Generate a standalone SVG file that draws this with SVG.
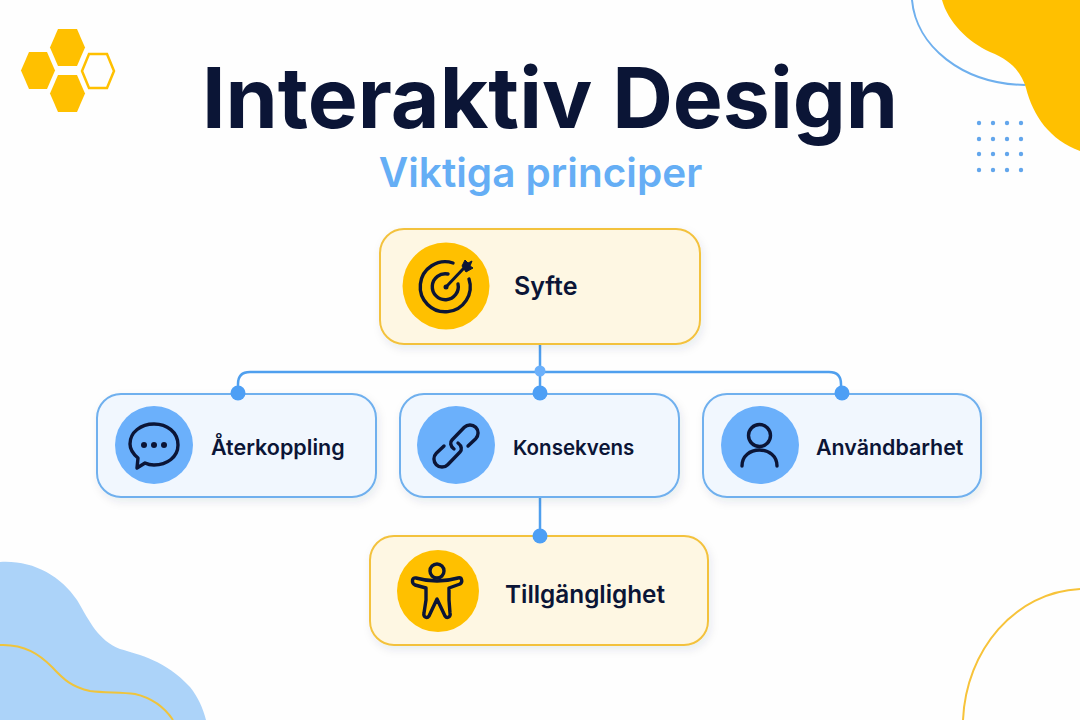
<svg xmlns="http://www.w3.org/2000/svg" width="1080" height="720" viewBox="0 0 1080 720">
<defs>
<filter id="sh" x="-10%" y="-15%" width="120%" height="135%"><feDropShadow dx="2" dy="4" stdDeviation="4" flood-color="#1a2a50" flood-opacity="0.09"/></filter>
</defs>
<style>
.t{font-family:"Inter","Noto Sans","Liberation Sans",sans-serif;fill:#0b1536}
.lbl{font-weight:600}
.y{fill:#fef7e3;stroke:#f3c23e;stroke-width:2}
.b{fill:#f1f7fe;stroke:#6fb0ee;stroke-width:2}
.ic{fill:none;stroke:#0b1536;stroke-width:3.4;stroke-linecap:round;stroke-linejoin:round}
.conn{fill:none;stroke:#4f9fee;stroke-width:2.5}
.dot{fill:#4d9ff5}
.d{fill:#63a6ec}
</style>
<rect width="1080" height="720" fill="#fefefe"/>
<g id="decor">
<path d="M942 0C948 22 968 42 990 52C1012 61 1021 72 1026 88C1033 116 1050 140 1080 151V0Z" fill="#ffc000"/>
<path d="M912 0C916 46 962 84 1025 85" fill="none" stroke="#6fb0ee" stroke-width="2"/>
<g class="d"><circle cx="979" cy="123" r="2.200"/><circle cx="993" cy="123" r="2.200"/><circle cx="1007" cy="123" r="2.200"/><circle cx="1021" cy="123" r="2.200"/><circle cx="979" cy="139" r="2.200"/><circle cx="993" cy="139" r="2.200"/><circle cx="1007" cy="139" r="2.200"/><circle cx="1021" cy="139" r="2.200"/><circle cx="979" cy="154" r="2.200"/><circle cx="993" cy="154" r="2.200"/><circle cx="1007" cy="154" r="2.200"/><circle cx="1021" cy="154" r="2.200"/><circle cx="979" cy="170" r="2.200"/><circle cx="993" cy="170" r="2.200"/><circle cx="1007" cy="170" r="2.200"/><circle cx="1021" cy="170" r="2.200"/></g>
<path d="M0 562C32 560 60 575 77 600C90 622 98 640 120 649C140 655 165 660 190 687C198 697 203 708 206 720H0Z" fill="#acd3f9"/>
<path d="M0 645C25 644 40 655 52 667C64 680 72 687 90 691C105 693 120 692 135 694C152 698 165 708 173 720" fill="none" stroke="#efc43c" stroke-width="2"/>
<path d="M963 720C966 650 1015 592 1080 589" fill="none" stroke="#f7c33a" stroke-width="2"/>
<g fill="#ffc000"><path d="M58 29H77L85 47.500L77 66H58L50 47.500Z"/><path d="M29 52H47L55 70.500L47 89H29L21 70.500Z"/><path d="M58 75H77L85 93.500L77 112H58L50 93.500Z"/></g>
<path d="M89 54H107L114 71L107 88H89L82 71Z" fill="none" stroke="#ffc000" stroke-width="2.500"/>
</g>
<text class="t" x="550" y="128" text-anchor="middle" font-size="84" font-weight="700">Interaktiv Design</text>
<text class="t" x="540.500" y="187" text-anchor="middle" font-size="40.500" font-weight="600" style="fill:#65aef5">Viktiga principer</text>
<g id="connectors">
<path class="conn" d="M540 344V393M238 393V384Q238 372 250 372H829Q841 372 841 384V393M540 497V536"/>
</g>
<g id="syfte"><rect class="y" x="380" y="229" width="320" height="115" rx="24" filter="url(#sh)"/><circle cx="446" cy="286" r="43.500" fill="#ffc000"/>
<g class="ic"><path d="M469 279A25 25 0 1 1 453 263"/><path d="M458 284A13 13 0 1 1 448 274"/><path d="M446 287L464 268" stroke-width="3"/></g><path d="M462 266L465 260L468 263L472 261L470 266L473 268L466 272Z" fill="#0b1536" stroke="#0b1536" stroke-width="1" stroke-linejoin="round"/><circle cx="446" cy="287" r="2.500" fill="#0b1536"/>
<text class="t lbl" font-size="25" x="514" y="295">Syfte</text></g>
<g id="aterkoppling"><rect class="b" x="97" y="394" width="279" height="103" rx="24" filter="url(#sh)"/><circle cx="154" cy="445" r="39" fill="#6bb0fb"/>
<path class="ic" d="M137 468L138 458C132 453 130 449 130 444C130 432 141 424 154 424C167 424 178 432 178 445C178 457 167 465 154 465C150 465 147 464 145 463Z"/><g fill="#0b1536"><circle cx="144" cy="445" r="3"/><circle cx="154" cy="445" r="3"/><circle cx="164" cy="445" r="3"/></g>
<text class="t lbl" font-size="21.500" x="211" y="455">Återkoppling</text></g>
<g id="konsekvens"><rect class="b" x="400" y="394" width="279" height="103" rx="24" filter="url(#sh)"/><circle cx="456" cy="445" r="39" fill="#6bb0fb"/>
<g class="ic"><path d="M454 449C450 446 450 442 452 440L464.300 427.300A8 8 0 0 1 475.700 438.700L468 446"/><path d="M458 443C462 446 462 450 460 452L447.700 464.700A8 8 0 0 1 436.300 453.300L444 446"/></g>
<text class="t lbl" font-size="20.500" x="513" y="455">Konsekvens</text></g>
<g id="anvandbarhet"><rect class="b" x="703" y="394" width="278" height="103" rx="24" filter="url(#sh)"/><circle cx="760" cy="445" r="39" fill="#6bb0fb"/>
<g class="ic"><circle cx="759.500" cy="435.500" r="11"/><path d="M742 466C742 456 750 450 759.500 450C769 450 777 456 777 466"/></g>
<text class="t lbl" font-size="21.400" x="816" y="455">Användbarhet</text></g>
<g id="tillganglighet"><rect class="y" x="370" y="536" width="338" height="109" rx="24" filter="url(#sh)"/><circle cx="438" cy="591" r="41" fill="#ffc000"/>
<g class="ic"><circle cx="437" cy="571" r="7"/><path d="M416 578C423 580 430 581 437 581C444 581 451 580 458 578C462 577 463 582 460 584L449 588L449 600L450 613C451 617 447 619 445 616L437 599L429 616C427 619 423 617 424 613L426 600L426 588L415 585C411 583 412 577 416 578Z"/></g>
<text class="t lbl" font-size="24.300" x="505" y="602.500">Tillgänglighet</text></g>
<g id="junctions"><circle class="dot" cx="238" cy="393" r="7.500"/><circle class="dot" cx="540" cy="393" r="7.500"/><circle class="dot" cx="842" cy="393" r="7.500"/><circle cx="540" cy="371" r="5.500" fill="#6bb0fb"/><circle class="dot" cx="540" cy="536" r="7.500"/></g>
</svg>
